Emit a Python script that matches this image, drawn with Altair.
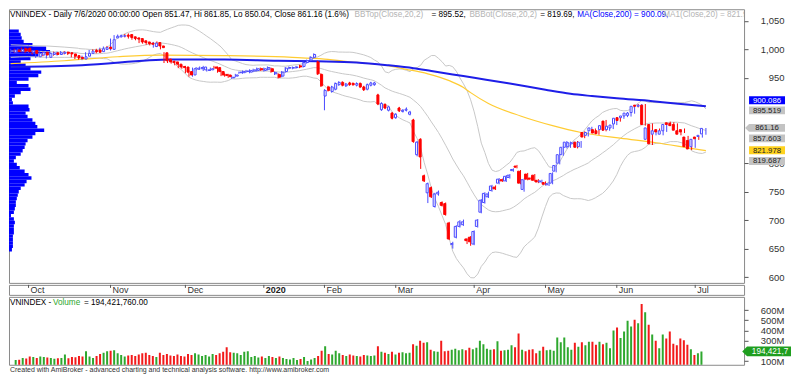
import altair as alt
import pandas as pd

# ---------------- layout ----------------
W = 736
H_MAIN = 274
H_STRIP = 10
H_VOL = 68
X_DOMAIN = [-0.48, 205.7]
PRICE_DOMAIN = [589.8, 1070.5]
VOL_DOMAIN = [63, 730]

# ---------------- data ----------------
# trading-day index 0 = 2019-09-24 ... 195 = 2020-07-06
opens = [995, 999, 996, 1001, 1002, 995, 998, 987, 990, 995, 986, 991, 994, 991, 993, 995, 994, 992, 989, 986,
         983, 988, 993, 998, 999, 996, 1000, 1004, 1000, 1020, 1022, 1023, 1025, 1026, 1022, 1020, 1019, 1015, 1013, 1011,
         1005, 1012, 1006, 994, 983, 979, 978, 974, 970, 969, 961, 955, 965, 966, 964, 963, 964, 969, 968, 961,
         956, 955, 950, 953, 959, 959, 961, 960, 962, 963, 966, 963, 965, 966, 957, 956, 953, 961, 967, 967,
         968, 971, 970, 977, 981, 986, 978, 956, 918, 934, 926, 930, 938, 942, 936, 941, 940, 937, 940, 934,
         930, 937, 938, 920, 894, 903, 893, 888, 880, 897, 891, 893, 886, 876, 815, 842, 778, 748, 757, 724,
         746, 731, 729, 695, 657, 670, 689, 692, 667, 670, 658, 689, 714, 731, 741, 752, 758, 765, 771, 769,
         775, 787, 795, 786, 754, 781, 774, 779, 770, 767, 766, 762, 765, 786, 800, 815, 828, 829, 834, 837,
         829, 854, 849, 857, 859, 857, 859, 874, 859, 862, 869, 880, 880, 883, 884, 889, 902, 900, 902, 842,
         868, 851, 859, 851, 857, 871, 870, 868, 857, 859, 846, 840, 829, 846, 847, 851.47]
highs = [1001, 1001, 1002, 1003, 1003, 1000, 999, 995, 997, 996, 995, 996, 996, 996, 997, 997, 996, 994, 991, 988,
         989, 995, 999, 1000, 1001, 1003, 1005, 1006, 1019, 1025, 1026, 1026, 1027, 1028, 1024, 1022, 1021, 1017, 1015, 1013,
         1013, 1014, 1008, 995, 985, 981, 980, 976, 972, 971, 963, 968, 969, 970, 971, 966, 968, 971, 970, 963,
         958, 957, 954, 957, 961, 963, 964, 965, 966, 968, 968, 968, 970, 968, 961, 958, 962, 969, 970, 970,
         971, 973, 979, 982, 988, 993, 980, 958, 930, 936, 936, 942, 944, 944, 941, 943, 942, 942, 942, 936,
         940, 943, 943, 922, 907, 905, 901, 890, 888, 899, 895, 898, 892, 878, 839, 844, 780, 766, 759, 748,
         752, 733, 731, 697, 662, 691, 700, 701, 668, 672, 682, 702, 737, 749, 750, 762, 761, 774, 773, 779,
         781, 791, 797, 788, 773, 783, 776, 781, 772, 771, 768, 766, 784, 798, 817, 830, 839, 838, 838, 839,
         839, 856, 856, 864, 861, 859, 868, 876, 867, 869, 881, 882, 885, 890, 890, 902, 904, 904, 904, 864,
         870, 859, 861, 859, 870, 873, 872, 870, 859, 861, 848, 842, 844, 848, 851, 861.85]
lows = [993, 994, 994, 995, 994, 993, 991, 985, 988, 988, 984, 989, 989, 989, 991, 991, 990, 986, 983, 982,
        981, 986, 991, 994, 993, 994, 998, 999, 998, 1018, 1020, 1021, 1021, 1019, 1017, 1016, 1011, 1010, 1008, 1007,
        1003, 1004, 1000, 976, 976, 975, 972, 967, 966, 958, 952, 952, 963, 964, 962, 961, 962, 965, 959, 953,
        952, 950, 948, 951, 957, 957, 959, 958, 960, 961, 962, 961, 963, 959, 955, 949, 951, 959, 965, 965,
        966, 967, 968, 975, 979, 984, 955, 934, 893, 926, 924, 928, 936, 935, 934, 936, 936, 935, 932, 927,
        928, 935, 936, 902, 892, 895, 891, 877, 878, 890, 889, 891, 884, 836, 812, 790, 767, 730, 739, 722,
        743, 724, 708, 665, 650, 668, 687, 690, 658, 655, 656, 687, 712, 729, 739, 750, 753, 763, 767, 767,
        773, 785, 791, 763, 750, 770, 770, 768, 765, 765, 761, 760, 763, 784, 798, 813, 826, 827, 832, 826,
        827, 844, 847, 855, 851, 850, 857, 856, 857, 860, 867, 873, 878, 881, 882, 887, 898, 898, 866, 840,
        832, 849, 853, 849, 855, 866, 864, 856, 849, 853, 827, 823, 827, 841, 845, 850.04]
closes = [999, 996, 1000, 997, 996, 998, 993, 993, 995, 990, 993, 994, 991, 994, 995, 993, 992, 988, 985, 984,
          987, 993, 997, 996, 995, 1001, 1003, 1001, 1017, 1023, 1024, 1024, 1023, 1021, 1019, 1018, 1013, 1012, 1010, 1009,
          1011, 1006, 1003, 980, 978, 977, 974, 969, 968, 960, 955, 966, 967, 968, 969, 964, 966, 967, 961, 955,
          954, 952, 951, 955, 960, 961, 962, 963, 964, 966, 964, 966, 968, 961, 959, 951, 960, 967, 968, 968,
          969, 969, 977, 980, 986, 991, 957, 936, 928, 928, 934, 940, 942, 937, 939, 938, 938, 940, 934, 929,
          938, 941, 941, 904, 905, 897, 899, 879, 886, 892, 893, 895, 890, 838, 837, 811, 769, 764, 741, 746,
          749, 726, 710, 667, 659, 689, 697, 697, 664, 662, 680, 700, 735, 747, 746, 760, 755, 772, 769, 777,
          779, 789, 793, 765, 771, 772, 772, 770, 767, 769, 763, 764, 782, 796, 815, 828, 837, 836, 836, 828,
          837, 846, 854, 862, 853, 852, 866, 858, 865, 867, 879, 875, 883, 888, 888, 900, 900, 902, 868, 862,
          834, 857, 855, 857, 868, 868, 866, 858, 851, 855, 829, 825, 842, 843, 849, 861.16]
volumes = [110, 112, 130, 125, 145, 140, 130, 145, 140, 135, 130, 122, 128, 130, 165, 128, 140, 138, 150, 145, 195,
           145, 130, 150, 170, 180, 195, 200, 205, 175, 160, 145, 155, 160, 150, 165, 175, 180, 160, 150, 140, 180,
           160, 170, 155, 150, 165, 150, 145, 170, 160, 175, 165, 150, 160, 145, 170, 160, 175, 190, 235,
           185, 180, 175, 160, 190, 195, 140, 150, 135, 145, 130, 150, 140, 130, 145, 130, 120,
           115, 130, 110, 120, 140, 100, 115, 130, 150, 200, 245,
           170, 165, 200, 175, 160, 150, 165, 155, 150, 145, 160, 155, 150, 155,
           245, 190, 180, 170, 190, 165, 180, 185, 175, 180,
           265, 250, 300, 280, 285, 210, 195, 190, 300, 195, 200, 210, 220, 205, 215, 205, 230, 215, 230, 300,
           265, 220, 210, 215, 295, 200, 205, 210, 255, 235, 370, 210, 195, 210, 215, 175, 200, 240, 205, 210,
           200, 330, 285, 330, 235, 210, 280, 240, 285, 255, 290, 290, 260, 290, 265, 280, 225, 400, 430, 325,
           390, 495, 440, 505, 470, 660, 580, 455, 360, 300, 225, 360, 320, 390, 270, 255, 320, 305, 260, 215,
           160, 175, 194.42]

month_labels = ["Oct", "Nov", "Dec", "2020", "Feb", "Mar", "Apr", "May", "Jun", "Jul"]
month_index = [5, 28, 49, 71, 88, 108, 130, 150, 170, 192]

price_ticks = [600, 650, 700, 750, 800, 950, 1000, 1050]
volume_ticks = [100, 300, 400, 500, 600]

ma200_index = [0, 20, 45, 60, 75, 86, 97, 106, 113, 118, 124, 130, 140, 150, 157, 163, 170, 180, 188, 195]
ma200_value = [969, 972, 982, 982, 980, 979, 977, 972, 967, 962, 956, 950, 940, 929, 922, 918, 914, 909, 904, 900.09]

yellow_index = [0, 15, 30, 42, 60, 79, 88, 97, 104, 111, 117, 123, 127, 129, 134, 143, 152, 160, 171, 181, 190, 195]
yellow_value = [975, 980, 987, 990, 989, 986, 983, 977, 973, 965, 957, 945, 933, 924, 905, 883, 866, 854, 844, 836, 827, 821.98]

# Bollinger band before a full 20-day window exists
bb_start_index = [0, 5, 10, 15, 19]
bb_start_top = [1008, 1007, 1006, 1004, 1002]
bb_start_mid = [997, 997, 996, 995, 994]
bb_start_bot = [986, 987, 986, 986, 986]

profile_price = list(range(1032, 642, -6))
profile_volume = [10, 12, 13, 15, 24, 38, 42, 30, 22, 12, 17, 22, 33, 30, 20, 8, 20, 22, 12, 6,
                  3, 4, 20, 21, 17, 19, 24, 27, 29, 36, 27, 24, 19, 17, 16, 14, 12, 7, 5, 8,
                  11, 16, 20, 23, 18, 16, 12, 10, 9, 8, 7, 7, 6, 5, 2, 5, 6, 5, 5, 5,
                  4, 4, 4, 4, 3]

lbl_values = [900.086, 895.519, 861.16, 857.603, 821.978, 819.687]
lbl_texts = ["900.086", "895.519", "861.16", "857.603", "821.978", "819.687"]

n = len(closes)
for arr in (opens, highs, lows, volumes):
    assert len(arr) == n, (len(arr), n)
assert len(profile_price) == len(profile_volume), (len(profile_price), len(profile_volume))

# ---------------- styles ----------------
FONT = "Liberation Sans"
UP_COL = "#4848ff"
DN_COL = "#ff0000"
VOL_UP = "#2ea82e"
VOL_DN = "#f21a1a"
BB_COL = "#c8c8c8"
lbl_bg = ["#0000ff", "#c3c3c3", "#c3c3c3", "#c3c3c3", "#ffd21e", "#c3c3c3"]
lbl_fg = ["#ffffff", "#222222", "#222222", "#222222", "#222222", "#222222"]
lbl_dy = [-6, 1.5, -0.5, 8, -0.5, 9]
lbl_arrow = [False, False, True, False, False, False]

RECT = "M-1,-0.22L1,-0.22L1,0.22L-1,0.22Z"
ARROW = "M-1.22,0L-1,-0.22L1,-0.22L1,0.22L-1,0.22Z"

df = pd.DataFrame({"i": list(range(n)), "open": opens, "high": highs, "low": lows,
                   "close": closes, "volume": volumes})

xs = alt.Scale(domain=X_DOMAIN, nice=False, zero=False)
ys = alt.Scale(domain=PRICE_DOMAIN, nice=False, zero=False)
vs = alt.Scale(domain=VOL_DOMAIN, nice=False, zero=False)
X = alt.X("i:Q", scale=xs, axis=None)
up = "datum.close >= datum.open"
base = alt.Chart(df)

yaxis = alt.Axis(orient="right", values=price_ticks, labelExpr="format(datum.value, ',')", tickSize=4,
                 tickColor="#555555", domain=False, grid=False, title=None, labelAlign="right",
                 labelPadding=36, labelFontSize=9.5, labelColor="#333333", labelFont=FONT)
vaxis = alt.Axis(orient="right", values=volume_ticks, labelExpr="datum.value + 'M'",
                 tickSize=4, tickColor="#555555", domain=False, grid=False, title=None, labelAlign="right",
                 labelPadding=36, labelFontSize=9.5, labelColor="#333333", labelFont=FONT)


def PY(field):
    return alt.Y(field, scale=ys, axis=yaxis, title=None)


def VY(field):
    return alt.Y(field, scale=vs, axis=vaxis, title=None)


# ---------------- main pane ----------------
profile = alt.Chart(pd.DataFrame({"p": profile_price, "v": profile_volume})).transform_calculate(
    lo="datum.p - 3", hi="datum.p + 3", z="0"
).mark_rect(color="#0000ff", clip=True).encode(
    x=alt.X("z:Q", scale=alt.Scale(domain=[0, 752], nice=False), axis=None),
    x2="v:Q",
    y=PY("lo:Q"),
    y2="hi:Q",
)

bb = base.transform_window(
    ma="mean(close)", sd="stdevp(close)", frame=[-19, 0], sort=[alt.SortField("i")]
).transform_filter("datum.i >= 19").transform_calculate(
    top="datum.ma + 2*datum.sd", bot="datum.ma - 2*datum.sd"
).transform_fold(["top", "ma", "bot"], as_=["band", "val"]).mark_line(
    color=BB_COL, strokeWidth=1, clip=True
).encode(x=X, y=PY("val:Q"), detail="band:N", order="i:Q")

bb_start = alt.Chart(pd.DataFrame({"i": bb_start_index, "top": bb_start_top, "ma": bb_start_mid,
                                   "bot": bb_start_bot})).transform_fold(
    ["top", "ma", "bot"], as_=["band", "val"]
).mark_line(color=BB_COL, strokeWidth=1, interpolate="monotone", clip=True).encode(
    x=X, y=PY("val:Q"), detail="band:N", order="i:Q")

yellow = alt.Chart(pd.DataFrame({"i": yellow_index, "v": yellow_value})).mark_line(
    color="#ffcc33", strokeWidth=1.2, interpolate="monotone", clip=True
).encode(x=X, y=PY("v:Q"))

ma200 = alt.Chart(pd.DataFrame({"i": ma200_index, "v": ma200_value})).mark_line(
    color="#1e1ee8", strokeWidth=2, interpolate="monotone", clip=True
).encode(x=X, y=PY("v:Q"))

wicks = base.mark_rule(strokeWidth=1, clip=True).encode(
    x=X, y=PY("low:Q"), y2="high:Q",
    color=alt.condition(up, alt.value(UP_COL), alt.value(DN_COL)),
)

bodies = base.mark_bar(width=2, strokeWidth=1, clip=True).encode(
    x=X, y=PY("open:Q"), y2="close:Q",
    fill=alt.condition(up, alt.value("#ffffff"), alt.value(DN_COL)),
    stroke=alt.condition(up, alt.value(UP_COL), alt.value(DN_COL)),
)

hdr_main = [
    ("VNINDEX - Daily 7/6/2020 00:00:00 Open 851.47, Hi 861.85, Lo 850.04, Close 861.16 (1.6%)", "#000000", 1),
    ("BBTop(Close,20,2)", "#b4b4b4", 346),
    ("= 895.52,", "#000000", 423),
    ("BBBot(Close,20,2)", "#b4b4b4", 461),
    ("= 819.69,", "#000000", 532),
    ("MA(Close,200) = 900.09,", "#0000ff", 569),
    ("MA1(Close,20) = 821.98", "#b4b4b4", 655),
]
hdr_layers = []
for txt, col, px in hdr_main:
    hdr_layers.append(
        alt.Chart(pd.DataFrame({"t": [txt]})).mark_text(
            align="left", baseline="middle", fontSize=8.2, font=FONT, color=col, clip=True
        ).encode(x=alt.value(px), y=alt.value(6), text="t:N")
    )

lbl_layers = []
for v, txt, bg, fg, dy, arrow in zip(lbl_values, lbl_texts, lbl_bg, lbl_fg, lbl_dy, lbl_arrow):
    d = pd.DataFrame({"v": [v], "t": [txt]})
    lbl_layers.append(
        alt.Chart(d).mark_point(shape=ARROW if arrow else RECT, size=36 * 36, filled=True, fill=bg,
                                opacity=1, strokeWidth=0, yOffset=dy, clip=False).encode(
            x=alt.value(W + 23), y=PY("v:Q"))
    )
    lbl_layers.append(
        alt.Chart(d).mark_text(align="center", baseline="middle", dy=dy + 0.5, fontSize=7.8, font=FONT,
                               color=fg, clip=False).encode(
            x=alt.value(W + 23), y=PY("v:Q"), text="t:N")
    )

main = alt.layer(profile, bb_start, bb, yellow, ma200, wicks, bodies, *hdr_layers, *lbl_layers).resolve_scale(
    x="independent"
).properties(width=W, height=H_MAIN)

# ---------------- date strip ----------------
mdf = pd.DataFrame({"i": month_index, "label": month_labels})
strip_ticks = alt.Chart(mdf).mark_rule(color="#555555").encode(x=X, y=alt.value(0), y2=alt.value(3))
strip_norm = alt.Chart(mdf).transform_filter("datum.label != '2020'").mark_text(
    align="left", baseline="middle", dx=2, fontSize=9, font=FONT, color="#333333"
).encode(x=X, y=alt.value(H_STRIP / 2 + 0.5), text="label:N")
strip_bold = alt.Chart(mdf).transform_filter("datum.label == '2020'").mark_text(
    align="left", baseline="middle", dx=2, fontSize=9, font=FONT, fontWeight="bold", color="#222222"
).encode(x=X, y=alt.value(H_STRIP / 2 + 0.5), text="label:N")
strip = alt.layer(strip_ticks, strip_norm, strip_bold).properties(width=W, height=H_STRIP)

# ---------------- volume pane ----------------
vol_bars = base.mark_bar(width=2, clip=True).encode(
    x=X, y=VY("volume:Q"), y2=alt.value(H_VOL),
    color=alt.condition(up, alt.value(VOL_UP), alt.value(VOL_DN)),
)
hdr_vol = [("VNINDEX - ", "#000000", 1), ("Volume", "#2ea82e", 44), ("= 194,421,760.00", "#000000", 75)]
vol_hdr_layers = []
for txt, col, px in hdr_vol:
    vol_hdr_layers.append(
        alt.Chart(pd.DataFrame({"t": [txt]})).mark_text(
            align="left", baseline="middle", fontSize=8.2, font=FONT, color=col
        ).encode(x=alt.value(px), y=alt.value(6), text="t:N")
    )
vlab = pd.DataFrame({"v": [volumes[-1]], "t": ["194,421,7"]})
vol_lbl_box = alt.Chart(vlab).mark_point(shape=ARROW, size=44 * 44, filled=True, fill="#1f9e1f", opacity=1,
                                         strokeWidth=0, clip=False).encode(
    x=alt.value(W + 25), y=VY("v:Q"))
vol_lbl_txt = alt.Chart(vlab).mark_text(align="center", baseline="middle", dy=0.5, fontSize=8.2, font=FONT,
                                        color="#ffffff", clip=False).encode(
    x=alt.value(W + 26), y=VY("v:Q"), text="t:N")
footer = alt.Chart(pd.DataFrame({"t": ["Created with AmiBroker - advanced charting and technical analysis software. http://www.amibroker.com"]})).mark_text(
    align="left", baseline="middle", fontSize=7, font=FONT, color="#333333", clip=False
).encode(x=alt.value(1), y=alt.value(H_VOL + 5), text="t:N")

vol = alt.layer(vol_bars, *vol_hdr_layers, vol_lbl_box, vol_lbl_txt, footer).properties(width=W, height=H_VOL)

chart = alt.vconcat(main, strip, vol, spacing=0).properties(
    padding={"left": 0, "top": 0, "right": 0, "bottom": 0}
).configure(font=FONT, background="#ffffff").configure_view(stroke="#8a8a8a", strokeWidth=1)

chart.save("out.html", embed_options={"renderer": "svg", "actions": False})
